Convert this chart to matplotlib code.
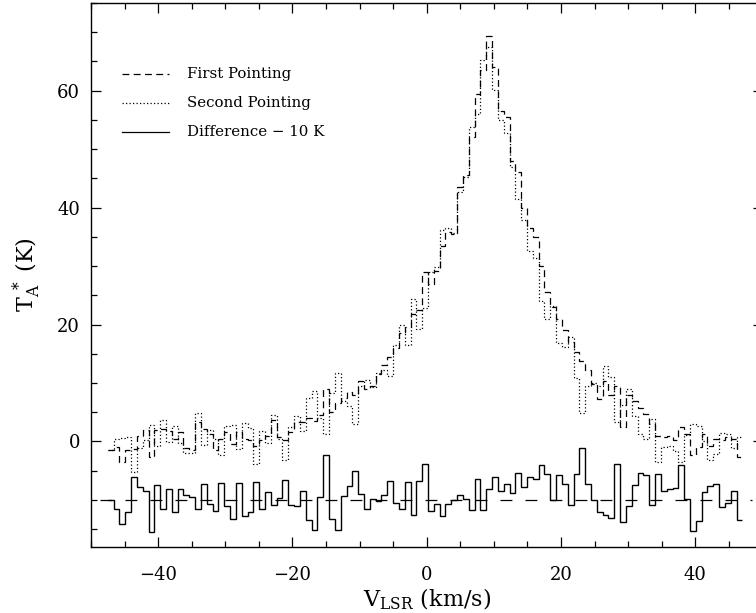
import numpy as np
import matplotlib
matplotlib.use("Agg")
import matplotlib.pyplot as plt

# channel grid (km/s)
v_start = -47.5
chan_width = 0.867

# First pointing (K)
first_pointing = [
    -1.5, -1.0, -3.5, -1.4, -1.25, 1.0, 1.9, -2.7, 1.9, 2.2,
    1.8, 0.5, 1.6, -1.1, -1.4, 3.3, 2.2, 1.2, -1.5, 0.5,
    1.6, -0.4, 1.6, 0.5, 0.2, -0.85, 0.2, 1.0, 3.6, 0.75,
    0.2, 1.6, 3.3, 3.3, 4.0, 3.5, 4.5, 9.0, 5.0, 6.5,
    7.5, 8.5, 7.9, 10.4, 9.0, 9.5, 11.5, 13.0, 14.5, 16.0,
    18.5, 19.5, 21.8, 22.5, 29.0, 27.0, 29.2, 33.5, 35.8, 35.5,
    43.5, 45.5, 52.0, 59.5, 63.5, 69.4, 64.0, 56.6, 55.5, 48.0,
    46.0, 40.0, 36.5, 35.0, 30.0, 25.5, 23.0, 21.0, 19.0, 17.0,
    15.3, 13.8, 12.2, 9.9, 7.3, 10.4, 8.0, 9.5, 2.5, 7.9,
    7.0, 5.8, 4.7, 3.0, 1.0, 0.7, 1.0, 0.3, 2.4, 1.3,
    -2.4, -1.0, 1.3, -0.8, 0.5, 0.2, 0.8, 0.4, -2.7,
]

# Second pointing (K)
second_pointing = [
    -1.4, 0.5, 0.6, 0.7, -5.15, -1.2, 0.3, 2.8, -0.7, 3.7,
    -0.1, 2.6, -0.3, -1.9, -1.9, 4.9, -0.6, 1.9, 0.4, -2.4,
    2.7, 2.8, -1.3, 3.2, 2.3, -3.85, 1.7, -0.3, 4.5, 0.35,
    -3.2, 2.4, 4.4, 1.7, 7.4, 8.7, 4.0, 1.3, 8.2, 11.7,
    6.9, 6.1, 2.9, 9.4, 10.5, 9.3, 11.7, 12.2, 11.2, 16.5,
    20.0, 16.5, 24.3, 19.2, 22.8, 28.9, 29.9, 36.2, 36.5, 35.6,
    42.6, 45.3, 53.8, 56.0, 65.3, 67.5, 60.1, 55.0, 52.8, 46.9,
    41.4, 37.8, 32.6, 31.4, 24.1, 21.0, 23.1, 16.8, 16.2, 17.8,
    10.8, 4.9, 9.4, 10.0, 9.4, 12.9, 11.1, 3.3, 6.3, 9.0,
    4.4, 1.2, 0.4, 3.8, -3.5, -0.9, -0.8, -1.7, -3.5, 1.1,
    2.9, 2.6, 0.0, -3.2, -2.2, 1.4, 1.3, -1.2, 0.8,
]

# Difference - 10 K
difference = [
    -10.1, -11.5, -14.1, -12.1, -6.1, -7.8, -8.4, -15.5, -7.4, -11.5,
    -8.1, -12.1, -8.1, -9.2, -9.5, -11.6, -7.2, -10.7, -11.9, -7.1,
    -11.1, -13.2, -7.1, -12.7, -12.1, -7.0, -11.5, -8.7, -10.9, -9.6,
    -6.6, -10.8, -11.1, -8.4, -13.4, -15.2, -9.5, -2.3, -13.2, -15.2,
    -9.4, -7.6, -5.0, -9.0, -11.5, -9.8, -10.2, -9.2, -6.7, -10.5,
    -11.5, -7.0, -12.5, -6.7, -3.8, -11.9, -10.7, -12.7, -10.7, -10.1,
    -9.1, -9.8, -11.8, -6.5, -11.8, -8.1, -6.1, -8.4, -7.3, -8.9,
    -5.4, -7.8, -6.1, -6.4, -4.1, -5.5, -10.1, -5.8, -7.2, -10.8,
    -5.5, -1.1, -7.2, -10.1, -12.1, -12.5, -13.1, -3.8, -13.8, -11.1,
    -7.4, -5.4, -5.7, -10.8, -5.5, -8.4, -8.2, -8.0, -4.1, -9.8,
    -15.3, -13.6, -8.7, -7.6, -7.3, -11.2, -10.5, -8.4, -13.5,
]

legend_labels = ["First Pointing", "Second Pointing", "Difference \u2212 10 K"]

n_chan = len(first_pointing)
edges = v_start + chan_width * np.arange(n_chan + 1)

plt.rcParams["font.family"] = "DejaVu Serif"
plt.rcParams["mathtext.fontset"] = "dejavuserif"

fig = plt.figure(figsize=(7.56, 6.13), dpi=100)
ax = fig.add_axes([0.1204, 0.1082, 0.8882, 0.8870])

dash_style = (0, (5.5, 3.5))
dot_style = (0, (1.0, 1.8))

ax.stairs(first_pointing, edges, baseline=None, color="black", lw=0.9, linestyle=dash_style)
ax.stairs(second_pointing, edges, baseline=None, color="black", lw=0.9, linestyle=dot_style)
ax.stairs(difference, edges, baseline=None, color="black", lw=1.0)
ax.plot([-48.7, 48.5], [-10, -10], color="black", lw=0.9, linestyle=(0, (9.5, 10.5)))

ax.set_xlim(-50, 50)
ax.set_ylim(-18, 75)

ax.set_xticks([-40, -20, 0, 20, 40])
ax.set_xticks(np.arange(-50, 51, 5), minor=True)
ax.set_yticks([0, 20, 40, 60])
ax.set_yticks(np.arange(-15, 76, 5), minor=True)
ax.tick_params(which="both", direction="in", top=True, right=True, width=0.9, labelsize=13)
ax.tick_params(which="major", length=7)
ax.tick_params(which="minor", length=4.3)
ax.tick_params(axis="x", pad=14)
ax.tick_params(axis="y", pad=8)
for sp in ax.spines.values():
    sp.set_linewidth(1.0)

ax.set_xlabel(r"$\mathrm{V_{LSR}}$ (km/s)", fontsize=16, labelpad=2)
ax.set_ylabel(r"$\mathrm{T_A^{\;*}}$ (K)", fontsize=16, labelpad=10)

# hand-drawn key, as in the original plot
key_styles = [dash_style, dot_style, "-"]
key_rows = [0.870, 0.816, 0.763]
for lab, ls, yr in zip(legend_labels, key_styles, key_rows):
    ax.plot([0.046, 0.116], [yr, yr], transform=ax.transAxes, color="black", lw=0.9, linestyle=ls)
    ax.text(0.143, yr, lab, transform=ax.transAxes, fontsize=10.8, va="center", ha="left")

fig.savefig("out.png", dpi=100)
